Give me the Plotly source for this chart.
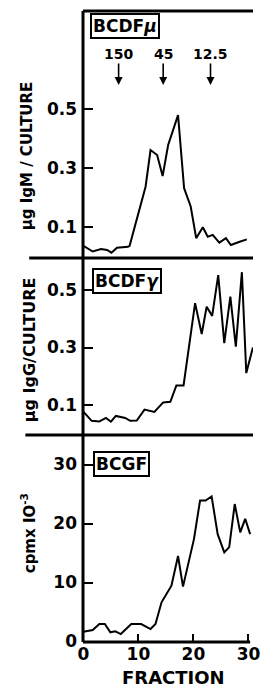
import plotly.graph_objects as go

# ---------------- data ----------------
igm_fraction = [0, 1.7, 3.2, 4.3, 5.1, 6.1, 8.1, 8.4, 11.3, 12.2, 13.4, 14.4, 15.4, 17.2,
                18.3, 19.5, 20.5, 21.7, 22.6, 23.5, 24.7, 25.9, 26.8, 27.3, 28.4, 29.7]
igm_value = [0.036, 0.017, 0.025, 0.022, 0.013, 0.030, 0.033, 0.036, 0.236, 0.360, 0.343, 0.272,
             0.377, 0.478, 0.231, 0.169, 0.062, 0.099, 0.067, 0.073, 0.047, 0.062, 0.039, 0.043,
             0.050, 0.058]

igg_fraction = [0, 1.5, 2.9, 4.1, 5.0, 5.9, 7.6, 8.5, 9.7, 11.1, 12.9, 14.5, 15.8, 16.9, 18.2,
                20.3, 21.5, 22.4, 23.4, 24.5, 25.6, 26.7, 27.7, 28.8, 29.6, 30.8]
igg_value = [0.077, 0.045, 0.043, 0.055, 0.042, 0.062, 0.055, 0.045, 0.046, 0.084, 0.076, 0.109,
             0.111, 0.168, 0.168, 0.454, 0.347, 0.442, 0.410, 0.552, 0.315, 0.477, 0.303, 0.562,
             0.211, 0.300]

bcgf_fraction = [0, 1.7, 2.9, 3.9, 4.9, 5.8, 6.8, 8.7, 10.5, 12.2, 13.1, 14.2, 16.0, 17.2, 18.1,
                 20.1, 21.2, 22.2, 23.3, 24.4, 25.6, 26.5, 27.5, 28.5, 29.4, 30.3]
bcgf_value = [1.66, 1.95, 2.97, 2.97, 1.56, 1.73, 1.27, 2.97, 2.97, 2.12, 2.97, 6.64, 9.46, 14.5,
              9.3, 17.4, 23.9, 23.9, 24.6, 18.2, 15.1, 16.0, 23.3, 18.5, 20.8, 18.2]

mw_fraction = [6.4, 14.5, 23.1]
mw_labels = ["150", "45", "12.5"]

ug_ticks = [0.1, 0.3, 0.5]
ug_ticktext = ["0.1", "0.3", "0.5"]
cpm_ticks = [0, 10, 20, 30]
x_ticks = [0, 10, 20, 30]

# ---------------- figure ----------------
W, H = 266, 693
ML, MR, MT, MB = 83, 6, 11, 51
PW, PH = W - ML - MR, H - MT - MB


def px_x(px):
    return (px - ML) / PW


def px_y(py):
    return (H - MB - py) / PH


FONT = "DejaVu Sans"
line_style = dict(color="black", width=2)

fig = go.Figure()
fig.add_trace(go.Scatter(x=igm_fraction, y=igm_value, mode="lines", line=line_style,
                         xaxis="x", yaxis="y", showlegend=False))
fig.add_trace(go.Scatter(x=igg_fraction, y=igg_value, mode="lines", line=line_style,
                         xaxis="x", yaxis="y2", showlegend=False))
fig.add_trace(go.Scatter(x=bcgf_fraction, y=bcgf_value, mode="lines", line=line_style,
                         xaxis="x", yaxis="y3", showlegend=False))

tickfont = dict(family=FONT, size=17, color="black", weight="bold")
yax_common = dict(showgrid=False, zeroline=False, showline=False, ticks="inside",
                  ticklen=10, tickwidth=2, tickcolor="black", tickfont=tickfont,
                  ticklabelstandoff=5, anchor="x", fixedrange=True)

d_top = px_y(258)
d_mid = px_y(435)

fig.update_layout(
    width=W, height=H,
    margin=dict(l=ML, r=MR, t=MT, b=MB, pad=0),
    paper_bgcolor="white", plot_bgcolor="white",
    xaxis=dict(range=[-0.07, 30.82], showgrid=False, zeroline=False, showline=False,
               ticks="inside", ticklen=8, tickwidth=2, tickcolor="black",
               tickvals=x_ticks, tickfont=tickfont, ticklabeloverflow="allow",
               anchor="y3", fixedrange=True),
    yaxis=dict(domain=[d_top, 1.0], range=[-0.005, 0.83], tickvals=ug_ticks,
               ticktext=ug_ticktext, **yax_common),
    yaxis2=dict(domain=[d_mid, d_top], range=[-0.0043, 0.6113], tickvals=ug_ticks,
                ticktext=ug_ticktext, **yax_common),
    yaxis3=dict(domain=[0, d_mid], range=[-0.08, 35.0], tickvals=cpm_ticks, **yax_common),
)

# frame lines
shp = dict(type="line", xref="paper", yref="paper", line=dict(color="black", width=3))
fig.add_shape(x0=px_x(83), x1=px_x(83), y0=0, y1=1, **shp)            # left axis
fig.add_shape(x0=px_x(83), x1=px_x(260), y0=1, y1=1, **shp)           # top line
fig.add_shape(x0=px_x(27), x1=px_x(260), y0=d_top, y1=d_top, **shp)   # separator 1
fig.add_shape(x0=px_x(23), x1=px_x(260), y0=d_mid, y1=d_mid, **shp)   # separator 2
fig.add_shape(x0=px_x(83), x1=px_x(257), y0=0, y1=0, **shp)           # bottom axis

boxfont = dict(family=FONT, size=17, color="black", weight="bold")
for label, left_px, top_px in [("BCDF<i>μ</i>", 90, 13), ("BCDF<i>γ</i>", 92, 268),
                               ("BCGF", 93, 451)]:
    fig.add_annotation(text=label, xref="paper", yref="paper", x=px_x(left_px),
                       y=px_y(top_px), xanchor="left", yanchor="top", showarrow=False,
                       font=boxfont, bordercolor="black", borderwidth=2, borderpad=1,
                       bgcolor="white")

# molecular weight markers
for fx, lab in zip(mw_fraction, mw_labels):
    fig.add_annotation(text=lab, x=fx, y=0.58, xref="x", yref="y", showarrow=True,
                       ax=0, ay=-31, arrowhead=2, arrowsize=1, arrowwidth=1.6,
                       arrowcolor="black", standoff=0,
                       font=dict(family=FONT, size=14, color="black", weight="bold"))

# axis titles
titfont = dict(family=FONT, size=15, color="black", weight="bold")
fig.add_annotation(text="μg IgM / CULTURE", xref="paper", yref="paper", x=px_x(25),
                   y=px_y(156), textangle=-90, showarrow=False, font=titfont,
                   xanchor="center", yanchor="middle")
fig.add_annotation(text="μg IgG/CULTURE", xref="paper", yref="paper", x=px_x(27),
                   y=px_y(350), textangle=-90, showarrow=False,
                   font=dict(family=FONT, size=16, color="black", weight="bold"),
                   xanchor="center", yanchor="middle")
fig.add_annotation(text="cpmx IO<sup>-3</sup>", xref="paper", yref="paper", x=px_x(26),
                   y=px_y(533), textangle=-90, showarrow=False, font=titfont,
                   xanchor="center", yanchor="middle")
fig.add_annotation(text="FRACTION", xref="paper", yref="paper", x=px_x(177),
                   y=px_y(677), showarrow=False,
                   font=dict(family=FONT, size=18, color="black", weight="bold"),
                   xanchor="center", yanchor="middle")

fig.write_html("out.html", config={"displayModeBar": False},
               post_script="document.body.style.margin='0';"
                           "document.body.style.overflow='hidden';")
